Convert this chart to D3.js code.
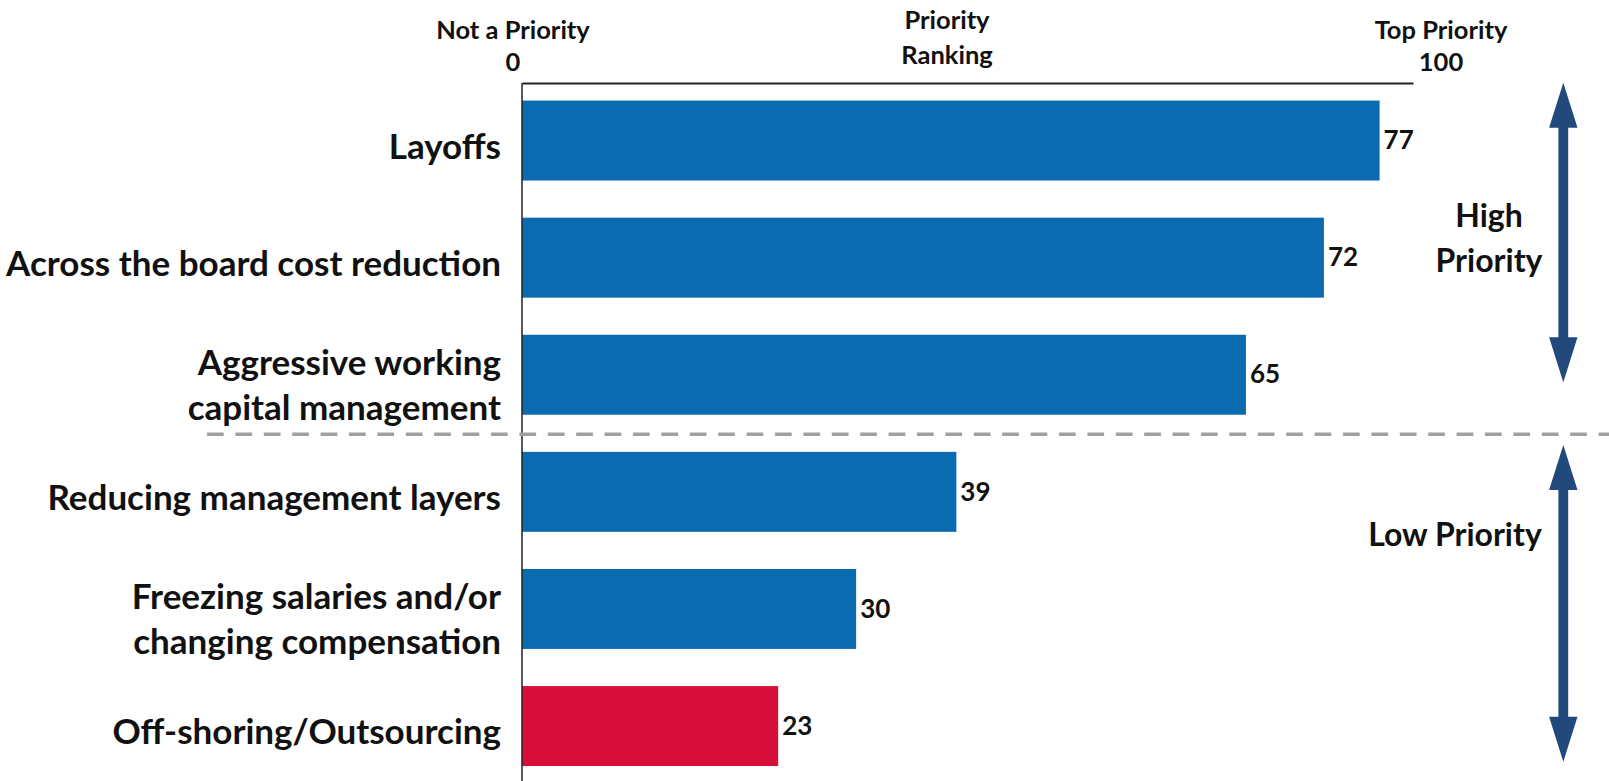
<!DOCTYPE html>
<html>
<head>
<meta charset="utf-8">
<script src="https://cdn.jsdelivr.net/npm/d3@7"></script>
<style>
  html, body { margin: 0; padding: 0; background: #fff; }
  svg { display: block; }
</style>
</head>
<body>
<svg id="chart" width="1609" height="781"></svg>
<script>
// Cost-cutting measures ranked by priority (0 = not a priority, 100 = top priority)
const categories = [
  "Layoffs",
  "Across the board cost reduction",
  "Aggressive working\ncapital management",
  "Reducing management layers",
  "Freezing salaries and/or\nchanging compensation",
  "Off-shoring/Outsourcing"
];
const values = [77, 72, 65, 39, 30, 23];
const highlighted = [false, false, false, false, false, true];
const highCount = 3; // first three measures form the "High Priority" group

const scaleEnds = [
  { head: "Not a Priority", tick: "0" },
  { head: "Top Priority", tick: "100" }
];
const axisTitle = ["Priority", "Ranking"];
const groupLabels = [["High", "Priority"], ["Low Priority"]];

const labelFont = "Lato, 'Open Sans', sans-serif";
const blue = "#0a6bb1";
const red = "#d90f3b";
const navy = "#21497c";

const svg = d3.select("#chart");

const x = d3.scaleLinear().domain([0, 80]).range([522, 1413]);
const y = d3.scaleBand()
  .domain(categories)
  .range([82, 784.6])
  .paddingInner(0.317)
  .paddingOuter(0.1585);

// Bars
svg.append("g").selectAll("rect")
  .data(categories)
  .join("rect")
  .attr("x", x(0))
  .attr("y", d => y(d))
  .attr("width", (d, i) => x(values[i]) - x(0))
  .attr("height", y.bandwidth())
  .attr("fill", (d, i) => highlighted[i] ? red : blue);

// Value labels at the end of each bar
svg.append("g").selectAll("text")
  .data(categories)
  .join("text")
  .attr("x", (d, i) => x(values[i]) + 4)
  .attr("y", d => y(d) + y.bandwidth() / 2 + 2)
  .attr("dominant-baseline", "middle")
  .attr("font-family", labelFont)
  .attr("font-weight", 700)
  .attr("font-size", 26)
  .attr("fill", "#111")
  .text((d, i) => values[i]);

// Category axis (left)
const yAxis = svg.append("g")
  .attr("transform", `translate(${x(0)},0)`)
  .call(d3.axisLeft(y).tickSize(0).tickPadding(21));
yAxis.select(".domain").remove();
yAxis.selectAll(".tick text")
  .attr("font-family", labelFont)
  .attr("font-weight", 700)
  .attr("font-size", 35)
  .attr("fill", "#111")
  .attr("dy", null)
  .each(function (d) {
    const lines = d.split("\n");
    const t = d3.select(this).text(null).attr("dominant-baseline", "middle");
    const lh = 45;
    const off = lines.length > 1 ? 14 : 9;
    lines.forEach((ln, k) => {
      t.append("tspan")
        .attr("x", -21)
        .attr("y", off + (k - (lines.length - 1) / 2) * lh)
        .text(ln);
    });
  });

// Vertical baseline
svg.append("line")
  .attr("x1", x(0)).attr("x2", x(0))
  .attr("y1", 83).attr("y2", 781)
  .attr("stroke", "#222").attr("stroke-width", 1.5);

// Top scale line
const xAxis = svg.append("g")
  .attr("transform", "translate(0,83)")
  .call(d3.axisTop(x).tickValues([]).tickSizeOuter(0));
xAxis.select(".domain").attr("stroke", "#222").attr("stroke-width", 2);

// Scale end annotations
const endX = [513, 1441];
scaleEnds.forEach((s, i) => {
  const g = svg.append("g")
    .attr("font-family", labelFont)
    .attr("font-weight", 700)
    .attr("font-size", 25.5)
    .attr("fill", "#111")
    .attr("text-anchor", "middle");
  g.append("text").attr("x", endX[i]).attr("y", 39).text(s.head);
  g.append("text").attr("x", endX[i]).attr("y", 71).text(s.tick);
});

// Axis title
const title = svg.append("text")
  .attr("font-family", labelFont)
  .attr("font-weight", 700)
  .attr("font-size", 25.5)
  .attr("fill", "#111")
  .attr("text-anchor", "middle");
axisTitle.forEach((t, k) => {
  title.append("tspan").attr("x", 947).attr("y", 29 + k * 35).text(t);
});

// Divider between high and low priority groups
const divY = (y(categories[highCount - 1]) + y.bandwidth() + y(categories[highCount])) / 2 + 1;
svg.append("line")
  .attr("x1", 207).attr("x2", 1609)
  .attr("y1", divY).attr("y2", divY)
  .attr("stroke", "#a0a0a0")
  .attr("stroke-width", 3.5)
  .attr("stroke-dasharray", "16.7 11.7");

// Double-headed arrows for each group
function doubleArrow(cx, y0, y1) {
  const hw = 14.2, sw = 4.9, hl = 45;
  const p = d3.path();
  p.moveTo(cx, y0);
  p.lineTo(cx + hw, y0 + hl);
  p.lineTo(cx + sw, y0 + hl);
  p.lineTo(cx + sw, y1 - hl);
  p.lineTo(cx + hw, y1 - hl);
  p.lineTo(cx, y1);
  p.lineTo(cx - hw, y1 - hl);
  p.lineTo(cx - sw, y1 - hl);
  p.lineTo(cx - sw, y0 + hl);
  p.lineTo(cx - hw, y0 + hl);
  p.closePath();
  svg.append("path").attr("d", p.toString()).attr("fill", navy);
}
doubleArrow(1563.3, 82.7, 382.3);
doubleArrow(1563.3, 445, 761.7);

// Group labels
const gl = svg.append("g")
  .attr("font-family", labelFont)
  .attr("font-weight", 700)
  .attr("font-size", 32)
  .attr("fill", "#111")
  .attr("text-anchor", "middle")
  .attr("dominant-baseline", "middle");
const hi = gl.append("text");
groupLabels[0].forEach((t, k) => {
  hi.append("tspan").attr("x", 1489).attr("y", 219 + k * 45).text(t);
});
gl.append("text").attr("x", 1455).attr("y", 538).text(groupLabels[1][0]);
</script>
</body>
</html>
